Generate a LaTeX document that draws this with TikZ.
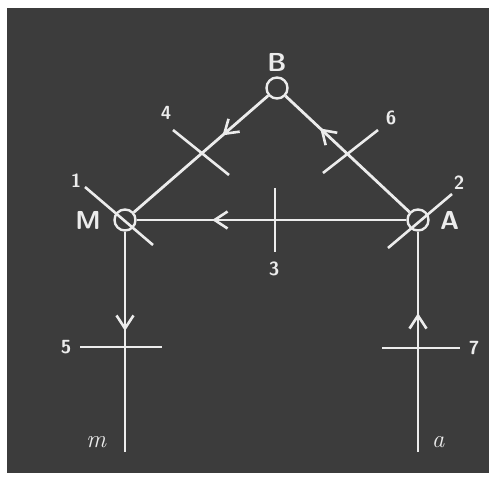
\documentclass[tikz,border=0pt]{standalone}
\usepackage{fontspec}
\usetikzlibrary{positioning,arrows.meta,decorations.markings}
\definecolor{board}{RGB}{60,60,60}
\definecolor{chalk}{RGB}{236,236,236}

\begin{document}
\begin{tikzpicture}[x=1pt,y=-1pt,
  wire/.style={draw=chalk,line width=2.8pt},
  tickmark/.style={draw=chalk,line width=2.6pt},
  junction/.style={circle,draw=chalk,line width=2.4pt,minimum size=21pt,inner sep=0pt},
  midarrow/.style={postaction={decorate},decoration={markings,
    mark=at position #1 with {\arrow{Straight Barb[length=13pt,width=17pt,line width=2.6pt,color=chalk]}}}},
  letter/.style={text=chalk,font=\sffamily\bfseries\fontsize{26}{26}\selectfont},
  num/.style={text=chalk,font=\sffamily\bfseries\fontsize{19}{19}\selectfont},
  endlabel/.style={text=chalk,font=\itshape\fontsize{25}{25}\selectfont}]
 % board
 \fill[white] (0,0) rectangle (495,478);
 \fill[board] (7,8) rectangle (489,473);
 % junctions
 \node[junction] (B) at (277,88) {};
 \node[junction] (M) at (125,220) {};
 \node[junction] (A) at (418,220) {};
 \coordinate (mend) at (125,452);
 \coordinate (aend) at (418,452);
 \node[letter,above=1pt of B] (Blab) {B};
 \node[letter,left=9pt of M] (Mlab) {M};
 \node[letter,right=7pt of A] (Alab) {A};
 % connectors
 \draw[wire,midarrow=.34] (B) -- (M);
 \draw[wire,midarrow=.72] (A) -- (B);
 \draw[wire,midarrow=.72] (A) -- (M);
 \draw[wire,midarrow=.45] (M) -- (mend);
 \draw[wire,midarrow=.63] (aend) -- (A);
 % crossing marks
 \draw[tickmark] (85,187) -- (153,245);
 \draw[tickmark] (388,248) -- (452,194);
 \draw[tickmark] (275,188) -- (275,252);
 \draw[tickmark] (173,130) -- (229,175);
 \draw[tickmark] (80,347) -- (162,347);
 \draw[tickmark] (323,173) -- (378,130);
 \draw[tickmark] (382,348) -- (460,348);
 \node[num] (n1) at (76,181) {1};
 \node[num] (n2) at (459,183) {2};
 \node[num] (n3) at (274,269) {3};
 \node[num] (n4) at (166,113) {4};
 \node[num] (n5) at (66,347) {5};
 \node[num] (n6) at (391,118) {6};
 \node[num] (n7) at (474,348) {7};
 \node[endlabel] (mlab) at (96,442) {m};
 \node[endlabel] (alab) at (438,442) {a};
\end{tikzpicture}
\end{document}
